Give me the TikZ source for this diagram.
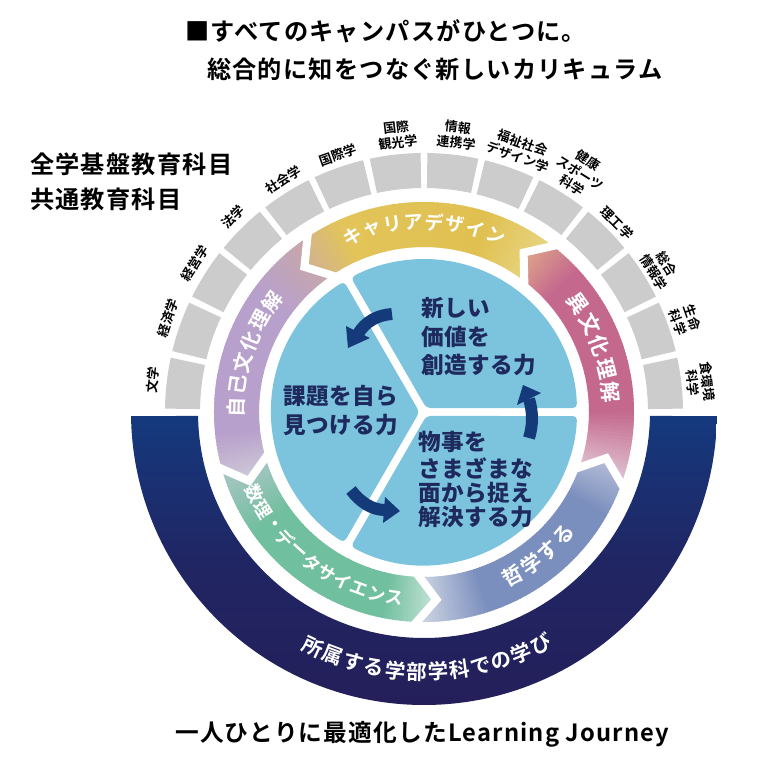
\documentclass[tikz,border=0pt]{standalone}
\usepackage{fontspec}
\setmainfont{Noto Sans CJK JP Medium}[BoldFont={Noto Sans CJK JP Bold}]
\newfontfamily\jpwide[LetterSpace=5,BoldFont={Noto Sans CJK JP Bold}]{Noto Sans CJK JP Medium}
\newfontfamily\jpmid[LetterSpace=2]{Noto Sans CJK JP}
\usetikzlibrary{calc}
\definecolor{navytop}{HTML}{15397E}
\definecolor{navybot}{HTML}{241F5A}
\definecolor{skyc}{HTML}{7CC3DE}
\definecolor{inktx}{HTML}{1E2A5E}
\definecolor{arrowc}{HTML}{153A7A}
\definecolor{cellc}{HTML}{CCCCCC}
\definecolor{ringg0}{HTML}{D0B098}\definecolor{ringg1}{HTML}{E2C45A}\definecolor{ringg2}{HTML}{E0C050}\definecolor{ringg3}{HTML}{E8D480}
\definecolor{ringp0}{HTML}{E0A888}\definecolor{ringp1}{HTML}{C4688E}\definecolor{ringp2}{HTML}{C4688E}\definecolor{ringp3}{HTML}{E0C4D2}
\definecolor{ringb0}{HTML}{B8BFD8}\definecolor{ringb1}{HTML}{7B8FBE}\definecolor{ringb2}{HTML}{7B8FBE}\definecolor{ringb3}{HTML}{D0D6E4}
\definecolor{ringt0}{HTML}{C8E4D8}\definecolor{ringt1}{HTML}{70BF9E}\definecolor{ringt2}{HTML}{70BF9E}\definecolor{ringt3}{HTML}{A8C4C4}
\definecolor{ringv0}{HTML}{D0CCD8}\definecolor{ringv1}{HTML}{B8A0CC}\definecolor{ringv2}{HTML}{B8A0CC}\definecolor{ringv3}{HTML}{C8A8A8}
\tikzset{
  headline/.style={anchor=west,inner sep=0,font=\fontsize{24.2}{24}\selectfont\jpwide\bfseries,text=black},
  innerlab/.style={anchor=west,inner sep=0,font=\fontsize{22.6}{22}\selectfont\jpmid\bfseries,text=inktx},
  celllab/.style={inner sep=0,align=center,font=\fontsize{13}{15}\selectfont\bfseries,text=black},
  cellbox/.style={fill=cellc},
  sector/.style={fill=skyc,rounded corners=4pt},
  gapline/.style={draw=white,line width=8pt,miter limit=10},
  flowarrow/.style={draw=arrowc,line width=12pt},
  flowhead/.style={fill=arrowc}
}
\newcommand\ringseg[6]{%
  \begin{scope}
    \clip (#1:210) arc[start angle=#1,end angle=#2,radius=210] -- (#2+5.5:188) -- (#2:165)
      arc[start angle=#2,end angle=#1,radius=165] -- (#1+5.5:188) -- cycle;
    \foreach \k in {0,...,79}{
      \pgfmathsetmacro\ta{#1+6-\k*(#1+6-(#2))/80}
      \pgfmathsetmacro\tb{#1+6-(\k+1.5)*(#1+6-(#2))/80}
      \pgfmathsetmacro\tt{\k/79}
      \ifdim\tt pt<0.2pt
        \pgfmathsetmacro\pp{100*\tt/0.2}\colorlet{cur}{#4!\pp!#3}
      \else\ifdim\tt pt<0.75pt
        \pgfmathsetmacro\pp{100*(\tt-0.2)/0.55}\colorlet{cur}{#5!\pp!#4}
      \else
        \pgfmathsetmacro\pp{100*(\tt-0.75)/0.25}\colorlet{cur}{#6!\pp!#5}
      \fi\fi
      \fill[cur] (\ta:225) -- (\tb:225) -- (\tb:150) -- (\ta:150) -- cycle;
    }
  \end{scope}}
% radius, start angle, step, rotation offset, font size, colour, chars
\newcommand\arctext[7]{%
  \foreach \ch [count=\n from 0] in {#7}{
    \pgfmathsetmacro\aa{#2+\n*(#3)}
    \pgfmathsetmacro\rr{\aa+(#4)}
    \node[inner sep=0,rotate=\rr,text=#6,font=\fontsize{#5}{#5}\selectfont\bfseries] (ch#2n\n) at (\aa:#1) {\ch};
  }}
\begin{document}
\begin{tikzpicture}[x=1pt,y=1pt]
\useasboundingbox (0,0) rectangle (760,-766);
\fill[white] (0,0) rectangle (760,-766);
\node[headline] (title1) at (185,-31) {■すべてのキャンパスがひとつに。};
\node[headline] (title2) at (207,-69) {総合的に知をつなぐ新しいカリキュラム};
\node[headline] (side1) at (30,-164) {全学基盤教育科目};
\node[headline] (side2) at (30,-199) {共通教育科目};
\node[headline,font=\fontsize{23.7}{24}\selectfont\jpwide\bfseries] (foot) at (175,-734) {一人ひとりに最適化したLearning Journey};

\begin{scope}[shift={(424,-412)}]
% navy band
\shade[top color=navytop,bottom color=navybot,middle color=navybot!75!navytop]
  (-0.8:293) arc[start angle=-0.8,end angle=-179.2,radius=293]
  -- (-179:226) arc[start angle=-179,end angle=-1,radius=226] -- cycle;
% grey cells
\foreach \i in {0,...,13}{
  \pgfmathsetmacro\sa{12.857*\i+0.75}
  \pgfmathsetmacro\sb{12.857*(\i+1)-0.75}
  \fill[cellbox] (\sa:259) arc[start angle=\sa,end angle=\sb,radius=259] -- (\sb:224)
    arc[start angle=\sb,end angle=\sa,radius=224] -- cycle;
}
% coloured ring
\ringseg{124}{52.5}{ringg0}{ringg1}{ringg2}{ringg3}
\ringseg{52.5}{-19.7}{ringp0}{ringp1}{ringp2}{ringp3}
\ringseg{-19.7}{-91.7}{ringb0}{ringb1}{ringb2}{ringb3}
\ringseg{-91.7}{-164}{ringt0}{ringt1}{ringt2}{ringt3}
\ringseg{196}{124}{ringv0}{ringv1}{ringv2}{ringv3}
\foreach \b in {124,52.5,-19.7,-91.7,-164}{
  \draw[gapline] (\b-2:218) -- (\b+5.5:188) -- (\b-2:158);
}
% inner sectors
\foreach \r in {0,120,240}{
  \fill[sector] (\r+60:4.6) -- (\r+1.5:153) arc[start angle=\r+1.5,end angle=\r+118.5,radius=153] -- cycle;
}
% ring labels
\arctext{190}{112}{-6.3}{-90}{19}{white}{キ,ャ,リ,ア,デ,ザ,イ,ン}
\arctext{188}{35.2}{-7.3}{-90}{21}{white}{異,文,化,理,解}
\arctext{188}{178.5}{-6.9}{-90}{20}{white}{自,己,文,化,理,解}
\arctext{186}{-61.6}{6.7}{90}{20.5}{white}{哲,学,す,る}
\arctext{188}{205.8}{5.52}{90}{18}{white}{数,理,・,デ,ー,タ,サ,イ,エ,ン,ス}
\arctext{260}{244.8}{4.72}{90}{20.5}{white}{所,属,す,る,学,部,学,科,で,の,学,び}
\end{scope}

% cell labels
\node[celllab,rotate=83.6] (c01) at (153,-380) {文学};
\node[celllab,rotate=70.7] (c02) at (168,-318) {経済学};
\node[celllab,rotate=57.9] (c03) at (195,-263) {経営学};
\node[celllab,rotate=45] (c04) at (233,-217) {法学};
\node[celllab,rotate=32.1] (c05) at (283,-180) {社会学};
\node[celllab,rotate=19.3] (c06) at (338,-155) {国際学};
\node[celllab,rotate=6.4] (c07) at (397,-135) {国際\\観光学};
\node[celllab,rotate=-6.4] (c08) at (457,-135) {情報\\連携学};
\node[celllab,rotate=-19.3] (c09) at (520,-150) {福祉社会\\デザイン学};
\node[celllab,rotate=-32.1] (c10) at (580,-173) {健康\\スポーツ\\科学};
\node[celllab,rotate=-45] (c11) at (617,-223) {理工学};
\node[celllab,rotate=-57.9] (c12) at (660,-268) {総合\\情報学};
\node[celllab,rotate=-70.7] (c13) at (685,-320) {生命\\科学};
\node[celllab,rotate=-83.6] (c14) at (700,-382) {食環境\\科学};

% inner labels
\node[innerlab] (t1a) at (421,-308) {新しい};
\node[innerlab] (t1b) at (421,-337) {価値を};
\node[innerlab] (t1c) at (421,-365) {創造する力};
\node[innerlab] (t2a) at (283,-396) {課題を自ら};
\node[innerlab] (t2b) at (283,-425) {見つける力};
\node[innerlab] (t3a) at (418,-442) {物事を};
\node[innerlab] (t3b) at (418,-468) {さまざまな};
\node[innerlab] (t3c) at (418,-493) {面から捉え};
\node[innerlab] (t3d) at (418,-517) {解決する力};

% flow arrows
\coordinate (a1s) at (392,-314);
\coordinate (a1e) at (358,-334);
\draw[flowarrow] (a1s) .. controls (377,-315) and (365,-322) .. (a1e);
\fill[flowhead] (346,-326) -- (348,-348) -- (370,-338) -- cycle;
\coordinate (a2s) at (529,-438);
\coordinate (a2e) at (529,-399);
\draw[flowarrow] (a2s) .. controls (533,-425) and (533,-412) .. (a2e);
\fill[flowhead] (523,-385) -- (517,-405) -- (541,-393) -- cycle;
\coordinate (a3s) at (351,-490);
\coordinate (a3e) at (385,-510);
\draw[flowarrow] (a3s) .. controls (360,-502) and (372,-510) .. (a3e);
\fill[flowhead] (400,-511) -- (385,-497) -- (383,-523) -- cycle;
\end{tikzpicture}
\end{document}
